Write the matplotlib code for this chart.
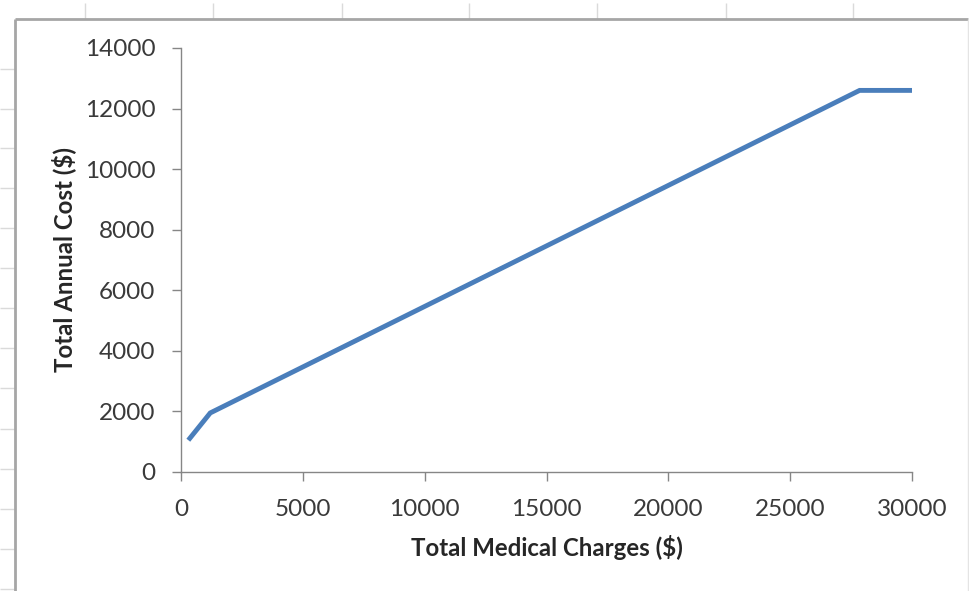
import matplotlib
matplotlib.use("Agg")
import matplotlib.pyplot as plt
from matplotlib.lines import Line2D

# Total annual cost versus total medical charges
medical_charges = [300, 1200, 27850, 30000]
annual_cost = [1050, 1950, 12600, 12600]

x_ticks = [0, 5000, 10000, 15000, 20000, 25000, 30000]
y_ticks = [0, 2000, 4000, 6000, 8000, 10000, 12000, 14000]

x_label = "Total Medical Charges ($)"
y_label = "Total Annual Cost ($)"

W, H = 970, 591
fig = plt.figure(figsize=(W / 100, H / 100), dpi=100)
fig.patch.set_facecolor("white")


def px(x, y):
    return x / W, 1 - y / H


def fig_line(x0, y0, x1, y1, color, lw):
    (a, b), (c, d) = px(x0, y0), px(x1, y1)
    fig.add_artist(Line2D([a, c], [b, d], transform=fig.transFigure,
                          color=color, lw=lw, solid_capstyle="butt"))


# worksheet cell grid around the chart object
for cx in [85, 213, 342, 469, 597, 726, 853]:
    fig_line(cx, 3, cx, 19, "#dadada", 1.0)
for ry in [69, 109, 148, 188, 228, 268, 308, 348, 388, 429, 469, 509, 549, 589]:
    fig_line(0, ry, 15, ry, "#dadada", 1.0)

# chart object frame
fig_line(15, 19, 968, 19, "#a6a6a6", 2.0)
fig_line(15, 19, 15, 591, "#a6a6a6", 2.0)
fig_line(968, 19, 968, 591, "#e4e4e4", 1.0)

left, right, top, bottom = 181, 912, 48, 472
ax = fig.add_axes([left / W, 1 - bottom / H, (right - left) / W, (bottom - top) / H])
ax.set_facecolor("none")

ax.plot(medical_charges, annual_cost, color="#4a7ebb", lw=3.5,
        solid_capstyle="butt", solid_joinstyle="miter")

ax.set_xlim(0, 30000)
ax.set_ylim(0, 14000)
ax.set_xticks(x_ticks)
ax.set_yticks(y_ticks)

font = "Lato"
axis_gray = "#868686"
for side in ["top", "right"]:
    ax.spines[side].set_visible(False)
for side in ["left", "bottom"]:
    ax.spines[side].set_color(axis_gray)
    ax.spines[side].set_linewidth(1.0)

ax.tick_params(axis="both", direction="out", length=6.5, width=1.0,
               color=axis_gray, labelsize=17.5, labelcolor="#3a3a3a")
ax.tick_params(axis="y", pad=12)
ax.tick_params(axis="x", pad=13)
for lab in ax.get_xticklabels() + ax.get_yticklabels():
    lab.set_fontfamily(font)

ax.set_xlabel(x_label, fontsize=17.3, fontweight="bold", family=font, color="#262626")
ax.set_ylabel(y_label, fontsize=17.3, fontweight="bold", family=font, color="#262626")
ax.xaxis.label.set_verticalalignment("center")
ax.yaxis.label.set_verticalalignment("center")
ax.xaxis.set_label_coords(0.5, (472 - 548) / (472 - 48))
ax.yaxis.set_label_coords((64 - 181) / (912 - 181), 0.5)

fig.savefig("out.png", dpi=100, facecolor="white")
